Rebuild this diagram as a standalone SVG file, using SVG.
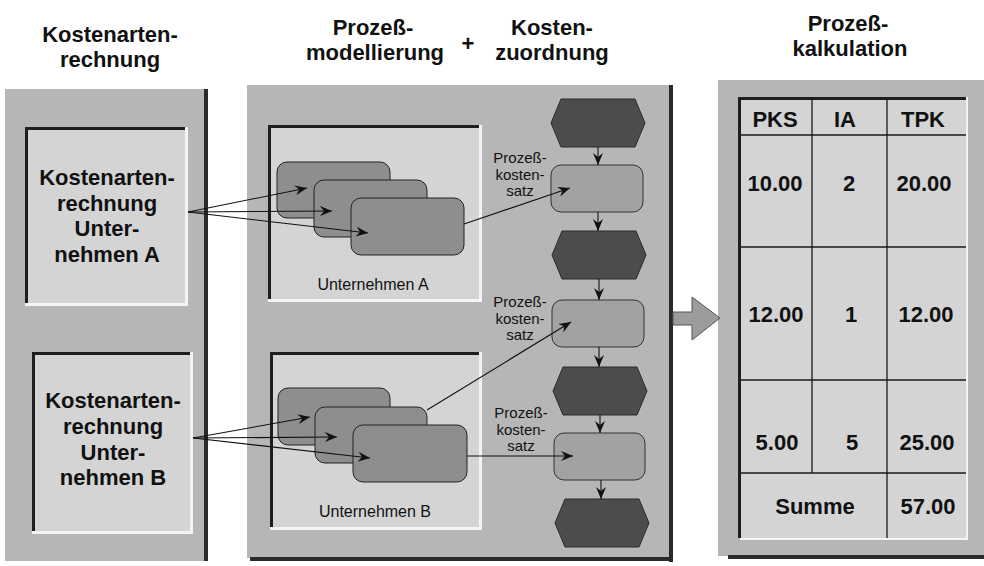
<svg xmlns="http://www.w3.org/2000/svg" width="984" height="566" viewBox="0 0 984 566">
<style>
text{font-family:"Liberation Sans",Arial,sans-serif;fill:#111;text-anchor:middle}
.hd{font-size:22px;font-weight:bold}
.bx{font-size:22px;font-weight:bold}
.tb{font-size:22px;font-weight:bold}
.lb{font-size:15px}
.un{font-size:16px}
.panel{fill:#b6b6b6}
.shadow{fill:#2a2a2a}
.inner{fill:#d4d4d4}
.hi{fill:#f4f4f4}
.dk{fill:#1e1e1e}
.proc{fill:#8e8e8e;stroke:#222;stroke-width:1}
.pks{fill:#a2a2a2;stroke:#333;stroke-width:1}
.hex{fill:#4c4c4c;stroke:#2a2a2a;stroke-width:1}
.grid{stroke:#1a1a1a;stroke-width:1.3}
.con{stroke:#111;stroke-width:1.1;fill:none;marker-end:url(#ah)}
</style>
<defs>
<marker id="ah" viewBox="0 0 12 10" refX="12" refY="5" markerWidth="12" markerHeight="10" markerUnits="userSpaceOnUse" orient="auto">
<path d="M0,0 L12,5 L0,10 L4,5 z" fill="#111"/>
</marker>
</defs>
<rect width="984" height="566" fill="#ffffff"/>

<!-- headers -->
<g id="header-kostenartenrechnung">
<text class="hd" x="110" y="42">Kostenarten-</text>
<text class="hd" x="110" y="67">rechnung</text>
</g>
<g id="header-prozessmodellierung">
<text class="hd" x="373" y="35">Prozeß-</text>
<text class="hd" x="375" y="60">modellierung</text>
<text class="hd" x="468" y="51">+</text>
<text class="hd" x="552" y="35">Kosten-</text>
<text class="hd" x="552" y="60">zuordnung</text>
</g>
<g id="header-prozesskalkulation">
<text class="hd" x="848" y="31">Prozeß-</text>
<text class="hd" x="850" y="56">kalkulation</text>
</g>

<!-- left panel -->
<g id="panel-left">
<rect class="panel" x="5" y="89" width="200" height="472"/>
<rect class="shadow" x="204" y="89" width="4" height="472"/>
</g>
<g id="box-kar-a">
<rect class="hi" x="25" y="127" width="163" height="179"/>
<rect class="inner" x="25" y="127" width="160" height="176"/>
<rect class="dk" x="25" y="127" width="160" height="3"/>
<rect class="dk" x="25" y="127" width="3" height="176"/>
<text class="bx" x="107" y="185">Kostenarten-</text>
<text class="bx" x="107" y="211">rechnung</text>
<text class="bx" x="107" y="236">Unter-</text>
<text class="bx" x="107" y="262">nehmen A</text>
</g>
<g id="box-kar-b">
<rect class="hi" x="32" y="352" width="161" height="182"/>
<rect class="inner" x="32" y="352" width="158" height="179"/>
<rect class="dk" x="32" y="352" width="158" height="3"/>
<rect class="dk" x="32" y="352" width="3" height="179"/>
<text class="bx" x="113" y="408">Kostenarten-</text>
<text class="bx" x="113" y="434">rechnung</text>
<text class="bx" x="113" y="460">Unter-</text>
<text class="bx" x="113" y="485">nehmen B</text>
</g>

<!-- middle panel -->
<g id="panel-middle">
<rect class="panel" x="247" y="85" width="423" height="473"/>
<rect class="shadow" x="669" y="85" width="4" height="477"/>
<rect class="shadow" x="250" y="557" width="423" height="4"/>
</g>
<g id="unternehmen-a">
<rect class="hi" x="268" y="125" width="214" height="177"/>
<rect class="inner" x="268" y="125" width="211" height="174"/>
<rect class="dk" x="268" y="125" width="211" height="3"/>
<rect class="dk" x="268" y="125" width="3" height="174"/>
<rect class="proc" x="277" y="162" width="113" height="56" rx="10"/>
<rect class="proc" x="314" y="180" width="113" height="57" rx="10"/>
<rect class="proc" x="351" y="198" width="113" height="57" rx="10"/>
<text class="un" x="373" y="290">Unternehmen A</text>
</g>
<g id="unternehmen-b">
<rect class="hi" x="270" y="352" width="212" height="178"/>
<rect class="inner" x="270" y="352" width="209" height="175"/>
<rect class="dk" x="270" y="352" width="209" height="3"/>
<rect class="dk" x="270" y="352" width="3" height="175"/>
<rect class="proc" x="278" y="388" width="112" height="57" rx="10"/>
<rect class="proc" x="315" y="407" width="112" height="56" rx="10"/>
<rect class="proc" x="353" y="425" width="114" height="57" rx="10"/>
<text class="un" x="375" y="517">Unternehmen B</text>
</g>

<g id="hex-1"><polygon class="hex" points="551,123 561,99 635,99 645,123 635,147 561,147"/></g>
<g id="pks-1">
<rect class="pks" x="551" y="165" width="92" height="47" rx="10"/>
<text class="lb" x="520" y="163">Prozeß-</text>
<text class="lb" x="520" y="179.5">kosten-</text>
<text class="lb" x="520" y="196">satz</text>
</g>
<g id="hex-2"><polygon class="hex" points="552,255 562,231 636,231 646,255 636,279 562,279"/></g>
<g id="pks-2">
<rect class="pks" x="552" y="300" width="92" height="47" rx="10"/>
<text class="lb" x="520" y="307">Prozeß-</text>
<text class="lb" x="520" y="323.5">kosten-</text>
<text class="lb" x="520" y="340">satz</text>
</g>
<g id="hex-3"><polygon class="hex" points="553,391 563,367 637,367 647,391 637,415 563,415"/></g>
<g id="pks-3">
<rect class="pks" x="554" y="433" width="91" height="47" rx="10"/>
<text class="lb" x="521" y="418">Prozeß-</text>
<text class="lb" x="521" y="434.5">kosten-</text>
<text class="lb" x="521" y="451">satz</text>
</g>
<g id="hex-4"><polygon class="hex" points="555,523 565,499 639,499 649,523 639,547 565,547"/></g>

<!-- right panel -->
<g id="panel-right">
<rect class="panel" x="718" y="80" width="266" height="476"/>
<rect class="shadow" x="728" y="555" width="256" height="4"/>
</g>
<g id="table">
<rect class="hi" x="740" y="97" width="228" height="443"/>
<rect class="inner" x="740" y="97" width="226" height="441"/>
<rect class="dk" x="740" y="97" width="226" height="3"/>
<rect class="dk" x="738" y="97" width="3" height="441"/>
<line class="grid" x1="741" y1="135" x2="966" y2="135"/>
<line class="grid" x1="741" y1="247" x2="966" y2="247"/>
<line class="grid" x1="741" y1="380" x2="966" y2="380"/>
<line class="grid" x1="741" y1="473" x2="966" y2="473"/>
<line class="grid" x1="812" y1="100" x2="812" y2="473"/>
<line class="grid" x1="887" y1="100" x2="887" y2="538"/>
<text class="tb" x="775" y="127">PKS</text>
<text class="tb" x="845" y="127">IA</text>
<text class="tb" x="923" y="127">TPK</text>
<text class="tb" x="775" y="191">10.00</text>
<text class="tb" x="849" y="191">2</text>
<text class="tb" x="924" y="191">20.00</text>
<text class="tb" x="776" y="322">12.00</text>
<text class="tb" x="851" y="322">1</text>
<text class="tb" x="926" y="322">12.00</text>
<text class="tb" x="777" y="450">5.00</text>
<text class="tb" x="852" y="450">5</text>
<text class="tb" x="927" y="450">25.00</text>
<text class="tb" x="815" y="514">Summe</text>
<text class="tb" x="928" y="514">57.00</text>
</g>

<g id="connectors">
<line class="con" x1="188" y1="212" x2="307" y2="188"/>
<line class="con" x1="188" y1="212" x2="332" y2="211"/>
<line class="con" x1="188" y1="212" x2="368" y2="233"/>
<line class="con" x1="193" y1="438" x2="310" y2="417"/>
<line class="con" x1="193" y1="438" x2="337" y2="437"/>
<line class="con" x1="193" y1="438" x2="370" y2="458"/>
<line class="con" x1="464" y1="224" x2="570" y2="188"/>
<line class="con" x1="427" y1="410" x2="571" y2="322"/>
<line class="con" x1="467" y1="456" x2="573" y2="456"/>
<line class="con" x1="598" y1="147" x2="598" y2="165"/>
<line class="con" x1="598" y1="212" x2="598" y2="231"/>
<line class="con" x1="599" y1="279" x2="599" y2="300"/>
<line class="con" x1="599" y1="347" x2="599" y2="367"/>
<line class="con" x1="600" y1="415" x2="600" y2="433"/>
<line class="con" x1="601" y1="480" x2="601" y2="499"/>
<polygon points="673,312 692,312 692,297 720,318 692,340 692,325 673,325" fill="#9c9c9c" stroke="#555" stroke-width="1"/>
</g>
</svg>
